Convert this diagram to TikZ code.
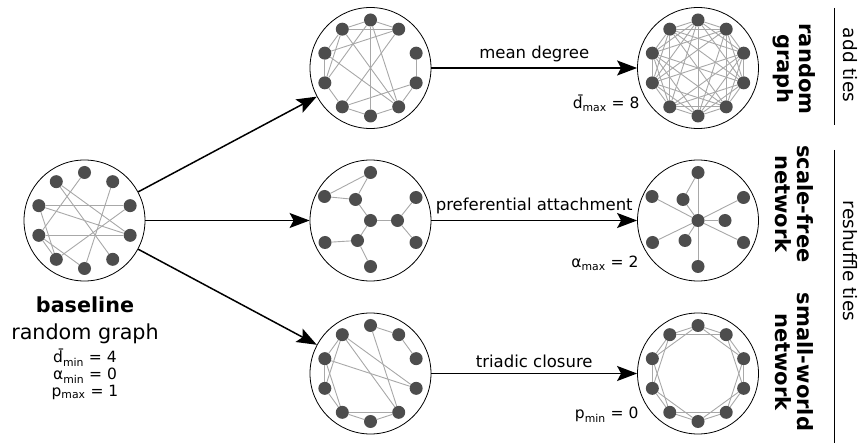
\documentclass[tikz,border=0pt]{standalone}
\usepackage{fontspec}
\setmainfont{DejaVu Sans}
\usepackage{xcolor}
\usetikzlibrary{arrows.meta,positioning,calc}

\definecolor{dotgray}{HTML}{4D4D4D}
\definecolor{tiegray}{HTML}{A8A8A8}

% ten dots on a ring inside panel #1, numbered clockwise from the top
\newcommand\ringdots[1]{%
  \foreach \k in {0,...,9}
    \node[vert] (#1-\k) at ($(#1)+({36*\k-90}:48)$) {};}
% dots of the hub-and-spoke layout inside panel #1
\newcommand\hubdots[1]{%
  \foreach \k/\dx/\dy in {a/0/-48,b/-46/-24,c/-15/-21,d/45.5/-23,e/0/0,
                          f/27/0,g/-45.5/22,h/-13/20,i/45.5/22,j/0/46}
    \node[vert] (#1-\k) at ($(#1)+(\dx,\dy)$) {};}

\begin{document}
\begin{tikzpicture}[x=1pt,y=-1pt,font=\fontsize{16.5}{20}\selectfont,
 panel/.style={draw,circle,minimum size=121pt,inner sep=0pt,line width=0.8pt},
 vert/.style={circle,fill=dotgray,minimum size=13pt,inner sep=0pt},
 tie/.style={draw=tiegray,line width=0.9pt},
 flow/.style={-{Stealth[length=20pt,width=15pt,inset=4pt]},line width=1.5pt},
 kind/.style={rotate=-90,align=center,font=\fontsize{21}{22}\selectfont\bfseries},
 param/.style={font=\fontsize{15.5}{17}\selectfont,anchor=base east},
 side/.style={rotate=-90,font=\fontsize{18.5}{20}\selectfont}]
\useasboundingbox (0,0) rectangle (860,446);

% panels
\node[panel] (base) at (84.5,220.5) {};
\node[panel] (rnd0) at (370.5,68) {};
\node[panel] (rnd1) at (698,68) {};
\node[panel] (sf0) at (370.5,220.5) {};
\node[panel] (sf1) at (698,220.5) {};
\node[panel] (sw0) at (370.5,373.5) {};
\node[panel] (sw1) at (698,373.5) {};

% baseline graph
\ringdots{base}
\foreach \i/\j in {0/7,9/3,9/4,1/5,8/2,8/3,8/6,7/3,7/5,7/6,2/6}
  \draw[tie] (base-\i) -- (base-\j);

% random graphs
\ringdots{rnd0}
\foreach \i/\j in {0/9,0/1,9/1,0/5,0/4,1/6,9/8,8/7,9/7,7/6,6/5,5/4,2/3,3/4,
                   8/1,9/4,8/4,6/3,7/0}
  \draw[tie] (rnd0-\i) -- (rnd0-\j);
\ringdots{rnd1}
% every pair but 2-8, 3-7, 0-4, 1-6 and 5-9
\foreach \i in {0,...,8}{
  \pgfmathtruncatemacro\lo{\i+1}
  \foreach \j in {\lo,...,9}{
    \pgfmathtruncatemacro\skip{(\i==2&&\j==8)||(\i==3&&\j==7)||(\i==0&&\j==4)
                               ||(\i==1&&\j==6)||(\i==5&&\j==9)}
    \ifnum\skip=0 \draw[tie] (rnd1-\i) -- (rnd1-\j);\fi}}

% scale-free networks
\hubdots{sf0}
\foreach \i/\j in {a/b,a/c,b/c,c/e,e/f,f/d,f/i,e/h,h/g,h/j}
  \draw[tie] (sf0-\i) -- (sf0-\j);
\hubdots{sf1}
\foreach \i in {a,b,c,d,f,g,h,i,j}
  \draw[tie] (sf1-e) -- (sf1-\i);
\draw[tie] (sf1-a) -- (sf1-c);

% small-world networks
\ringdots{sw0}
\foreach \i/\j in {0/1,1/2,9/8,9/7,8/7,8/6,7/6,6/5,5/4,6/4,9/3,9/4,8/3,0/4}
  \draw[tie] (sw0-\i) -- (sw0-\j);
\ringdots{sw1}
\foreach \i in {0,...,9}{
  \pgfmathtruncatemacro\ja{mod(\i+1,10)}
  \pgfmathtruncatemacro\jb{mod(\i+2,10)}
  \draw[tie] (sw1-\i) -- (sw1-\ja);
  \draw[tie] (sw1-\i) -- (sw1-\jb);}

% arrows
\draw[flow] (base) -- (rnd0);
\draw[flow] (base) -- (sf0);
\draw[flow] (base) -- (sw0);
\draw[flow] (rnd0) -- node[above=2pt] (mdeg) {mean degree} (rnd1);
\draw[flow] (sf0) -- node[above=2pt] (pref) {preferential attachment} (sf1);
\draw[flow] (sw0) -- node[above=2pt] (tric) {triadic closure} (sw1);

% parameter values
\node[param] (dmax) at (643,109) {\=d\textsubscript{max} = 8};
\node[param] (amax) at (642,268) {α\textsubscript{max} = 2};
\node[param] (pmin) at (642,419) {p\textsubscript{min} = 0};

% baseline caption
\node[font=\fontsize{20.7}{22}\selectfont\bfseries,anchor=base] (bname) at (85,313) {baseline};
\node[font=\fontsize{20.7}{22}\selectfont,anchor=base] (bkind) at (85,340) {random graph};
\node[font=\fontsize{15.5}{17}\selectfont,anchor=base] (bd) at (85,363) {\=d\textsubscript{min} = 4};
\node[font=\fontsize{15.5}{17}\selectfont,anchor=base] (ba) at (85,380) {α\textsubscript{min} = 0};
\node[font=\fontsize{15.5}{17}\selectfont,anchor=base] (bp) at (85,396) {p\textsubscript{max} = 1};

% network kinds and groups on the right
\node[kind] (krnd) at (794,69) {random\\graph};
\node[kind] (ksf) at (794,204) {scale-free\\network};
\node[kind] (ksw) at (794,362) {small-world\\network};
\draw[line width=0.8pt] (834,8) -- (834,125);
\draw[line width=0.8pt] (834,150) -- (834,443);
\node[side] (gadd) at (850,65) {add ties};
\node[side] (gshuf) at (850,261) {reshuffle ties};
\end{tikzpicture}
\end{document}
